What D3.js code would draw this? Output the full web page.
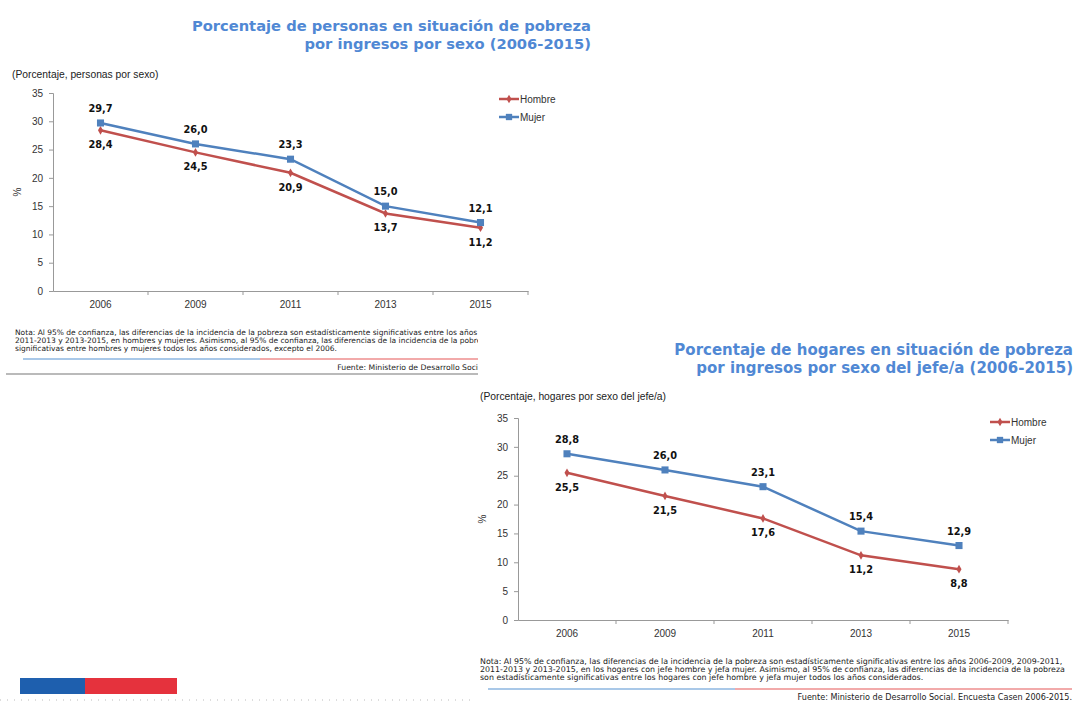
<!DOCTYPE html>
<html>
<head>
<meta charset="utf-8">
<script src="https://cdn.jsdelivr.net/npm/d3@7"></script>
<style>
  body { margin: 0; background: #fff; }
  svg { display: block; }
  .tick text { font-family: "Liberation Sans", Arial, sans-serif; font-size: 10px; fill: #333; }
  .domain, .tick line { stroke: #999; }
  .title { font-family: "DejaVu Sans", Verdana, sans-serif; font-weight: bold; fill: #5088d4; }
  .sub { font-family: "Liberation Sans", Arial, sans-serif; font-size: 10.3px; fill: #222; }
  .val { font-family: "DejaVu Sans", Verdana, sans-serif; font-weight: bold; font-size: 9.8px; fill: #111; }
  .leg { font-family: "Liberation Sans", Arial, sans-serif; font-size: 10px; fill: #333; }
  .note { font-family: "DejaVu Sans", Verdana, sans-serif; fill: #222; }
</style>
</head>
<body>
<div id="d3-container"></div>
<script>
/* DATA */
const years = ["2006", "2009", "2011", "2013", "2015"];
const yTicks = [0, 5, 10, 15, 20, 25, 30, 35];
const seriesNames = ["Hombre", "Mujer"];

// personas
const personasHombre = [28.4, 24.5, 20.9, 13.7, 11.2];
const personasMujer = [29.7, 26.0, 23.3, 15.0, 12.1];

// hogares
const hogaresHombre = [25.5, 21.5, 17.6, 11.2, 8.8];
const hogaresMujer = [28.8, 26.0, 23.1, 15.4, 12.9];

const colors = { Hombre: "#c0504d", Mujer: "#4f81bd" };

const width = 1075, height = 703;

const svg = d3.select("#d3-container")
  .append("svg")
  .attr("width", width)
  .attr("height", height);

const fmt = v => d3.format(".1f")(v).replace(".", ",");

function drawChart(cfg) {
  const g = svg.append("g");

  // titles
  cfg.title.forEach((t, i) => {
    g.append("text").attr("class", "title")
      .attr("x", cfg.titleX).attr("y", cfg.titleY + i * 18)
      .attr("font-size", cfg.titleSize)
      .attr("text-anchor", "end").text(t);
  });
  g.append("text").attr("class", "sub")
    .attr("x", cfg.subX).attr("y", cfg.subY).text(cfg.sub);

  const x = d3.scaleBand().domain(years).range([cfg.left, cfg.right]);
  const y = d3.scaleLinear().domain([0, 35]).range([cfg.bottom, cfg.top]);

  // axes
  g.append("g")
    .attr("transform", `translate(0,${cfg.bottom})`)
    .call(d3.axisBottom(x).tickSize(0).tickPadding(10))
    .call(a => a.select(".domain").attr("stroke", "#999"));
  // minor ticks between categories
  g.append("g").selectAll("line")
    .data(years)
    .join("line")
    .attr("x1", (d, i) => cfg.left + x.step() * (i + 1))
    .attr("x2", (d, i) => cfg.left + x.step() * (i + 1))
    .attr("y1", cfg.bottom).attr("y2", cfg.bottom + 4)
    .attr("stroke", "#999");

  g.append("g")
    .attr("transform", `translate(${cfg.left},0)`)
    .call(d3.axisLeft(y).tickValues(yTicks).tickSize(4).tickPadding(6));

  g.append("text").attr("class", "leg")
    .attr("transform", `translate(${cfg.left - 32},${(cfg.top + cfg.bottom) / 2}) rotate(-90)`)
    .attr("text-anchor", "middle").attr("font-size", 9).text("%");

  const line = d3.line().x((d, i) => x(years[i]) + x.bandwidth() / 2).y(d => y(d));

  const series = [
    { name: "Hombre", values: cfg.hombre },
    { name: "Mujer", values: cfg.mujer }
  ];

  series.forEach(s => {
    g.append("path")
      .datum(s.values)
      .attr("fill", "none")
      .attr("stroke", colors[s.name])
      .attr("stroke-width", 2.5)
      .attr("d", line);

    g.append("g").selectAll("path.m")
      .data(s.values)
      .join("path")
      .attr("class", "m")
      .attr("transform", (d, i) => `translate(${x(years[i]) + x.bandwidth() / 2},${y(d)})`)
      .attr("d", s.name === "Mujer"
        ? d3.symbol(d3.symbolSquare, 50)()
        : d3.symbol(d3.symbolDiamond, 22)())
      .attr("fill", colors[s.name]);

    g.append("g").selectAll("text")
      .data(s.values)
      .join("text")
      .attr("class", "val")
      .attr("x", (d, i) => x(years[i]) + x.bandwidth() / 2)
      .attr("y", d => s.name === "Mujer" ? y(d) - 11 : y(d) + 18)
      .attr("text-anchor", "middle")
      .text(d => fmt(d));
  });

  // legend
  seriesNames.forEach((n, i) => {
    const ly = cfg.legY + i * 18;
    g.append("line")
      .attr("x1", cfg.legX).attr("x2", cfg.legX + 20)
      .attr("y1", ly).attr("y2", ly)
      .attr("stroke", colors[n]).attr("stroke-width", 2.5);
    g.append("path")
      .attr("transform", `translate(${cfg.legX + 10},${ly})`)
      .attr("d", n === "Mujer" ? d3.symbol(d3.symbolSquare, 40)() : d3.symbol(d3.symbolDiamond, 22)())
      .attr("fill", colors[n]);
    g.append("text").attr("class", "leg")
      .attr("x", cfg.legX + 21).attr("y", ly + 3.5).text(n);
  });

  // note
  const clipId = "clip" + cfg.id;
  svg.append("clipPath").attr("id", clipId)
    .append("rect").attr("x", cfg.noteX).attr("y", cfg.noteY - 10)
    .attr("width", cfg.noteW - cfg.noteX).attr("height", 40);
  const nt = g.append("g").attr("clip-path", `url(#${clipId})`);
  cfg.note.forEach((t, i) => {
    nt.append("text").attr("class", "note")
      .attr("font-size", cfg.noteSize)
      .attr("x", cfg.noteX).attr("y", cfg.noteY + i * 8).text(t);
  });
  g.append("line")
    .attr("x1", cfg.barX0).attr("x2", cfg.barX1)
    .attr("y1", cfg.barY).attr("y2", cfg.barY)
    .attr("stroke", "#a9c8e8").attr("stroke-width", 2);
  g.append("line")
    .attr("x1", cfg.barX1).attr("x2", cfg.barX2)
    .attr("y1", cfg.barY).attr("y2", cfg.barY)
    .attr("stroke", "#f2aaaa").attr("stroke-width", 2);
  g.append("text").attr("class", "note")
    .attr("font-size", cfg.sourceSize)
    .attr("x", cfg.barX2).attr("y", cfg.barY + 11)
    .attr("text-anchor", "end").text(cfg.source);
}

drawChart({
  id: 1,
  title: ["Porcentaje de personas en situación de pobreza", "por ingresos por sexo (2006-2015)"],
  titleX: 591, titleY: 31, titleSize: 14.7,
  sub: "(Porcentaje, personas por sexo)", subX: 12, subY: 78,
  left: 53, right: 528, top: 93, bottom: 291,
  hombre: personasHombre, mujer: personasMujer,
  legX: 499, legY: 99,
  note: [
    "Nota: Al 95% de confianza, las diferencias de la incidencia de la pobreza son estadísticamente significativas entre los años",
    "2011-2013 y 2013-2015, en hombres y mujeres. Asimismo, al 95% de confianza, las diferencias de la incidencia de la pobreza son estadísticamente",
    "significativas entre hombres y mujeres todos los años considerados, excepto el 2006."
  ],
  noteX: 15, noteY: 335, noteW: 478, noteSize: 7.5,
  barX0: 23, barX1: 260, barX2: 478, barY: 359,
  source: "Fuente: Ministerio de Desarrollo Soci", sourceSize: 7.7
});

drawChart({
  id: 2,
  title: ["Porcentaje de hogares en situación de pobreza", "por ingresos por sexo del jefe/a (2006-2015)"],
  titleX: 1073, titleY: 355, titleSize: 15,
  sub: "(Porcentaje, hogares por sexo del jefe/a)", subX: 480, subY: 400,
  left: 518, right: 1008, top: 418, bottom: 620,
  hombre: hogaresHombre, mujer: hogaresMujer,
  legX: 990, legY: 422,
  note: [
    "Nota: Al 95% de confianza, las diferencias de la incidencia de la pobreza son estadísticamente significativas entre los años 2006-2009, 2009-2011,",
    "2011-2013 y 2013-2015, en los hogares con jefe hombre y jefa mujer. Asimismo, al 95% de confianza, las diferencias de la incidencia de la pobreza",
    "son estadísticamente significativas entre los hogares con jefe hombre y jefa mujer todos los años considerados."
  ],
  noteX: 480, noteY: 664, noteW: 1075, noteSize: 7.9,
  barX0: 488, barX1: 735, barX2: 1072, barY: 689,
  source: "Fuente: Ministerio de Desarrollo Social. Encuesta Casen 2006-2015.", sourceSize: 8.1
});

// gray rule under the first note
svg.append("line")
  .attr("x1", 6).attr("x2", 478).attr("y1", 374).attr("y2", 374)
  .attr("stroke", "#777").attr("stroke-width", 1.2);

// flag strip and dotted footer
svg.append("rect").attr("x", 20).attr("y", 678).attr("width", 65).attr("height", 16).attr("fill", "#1e5fae");
svg.append("rect").attr("x", 85).attr("y", 678).attr("width", 92).attr("height", 16).attr("fill", "#e5323d");
svg.append("line")
  .attr("x1", 0).attr("x2", 470).attr("y1", 700).attr("y2", 700)
  .attr("stroke", "#bbb").attr("stroke-width", 1).attr("stroke-dasharray", "1,6");
</script>
</body>
</html>
